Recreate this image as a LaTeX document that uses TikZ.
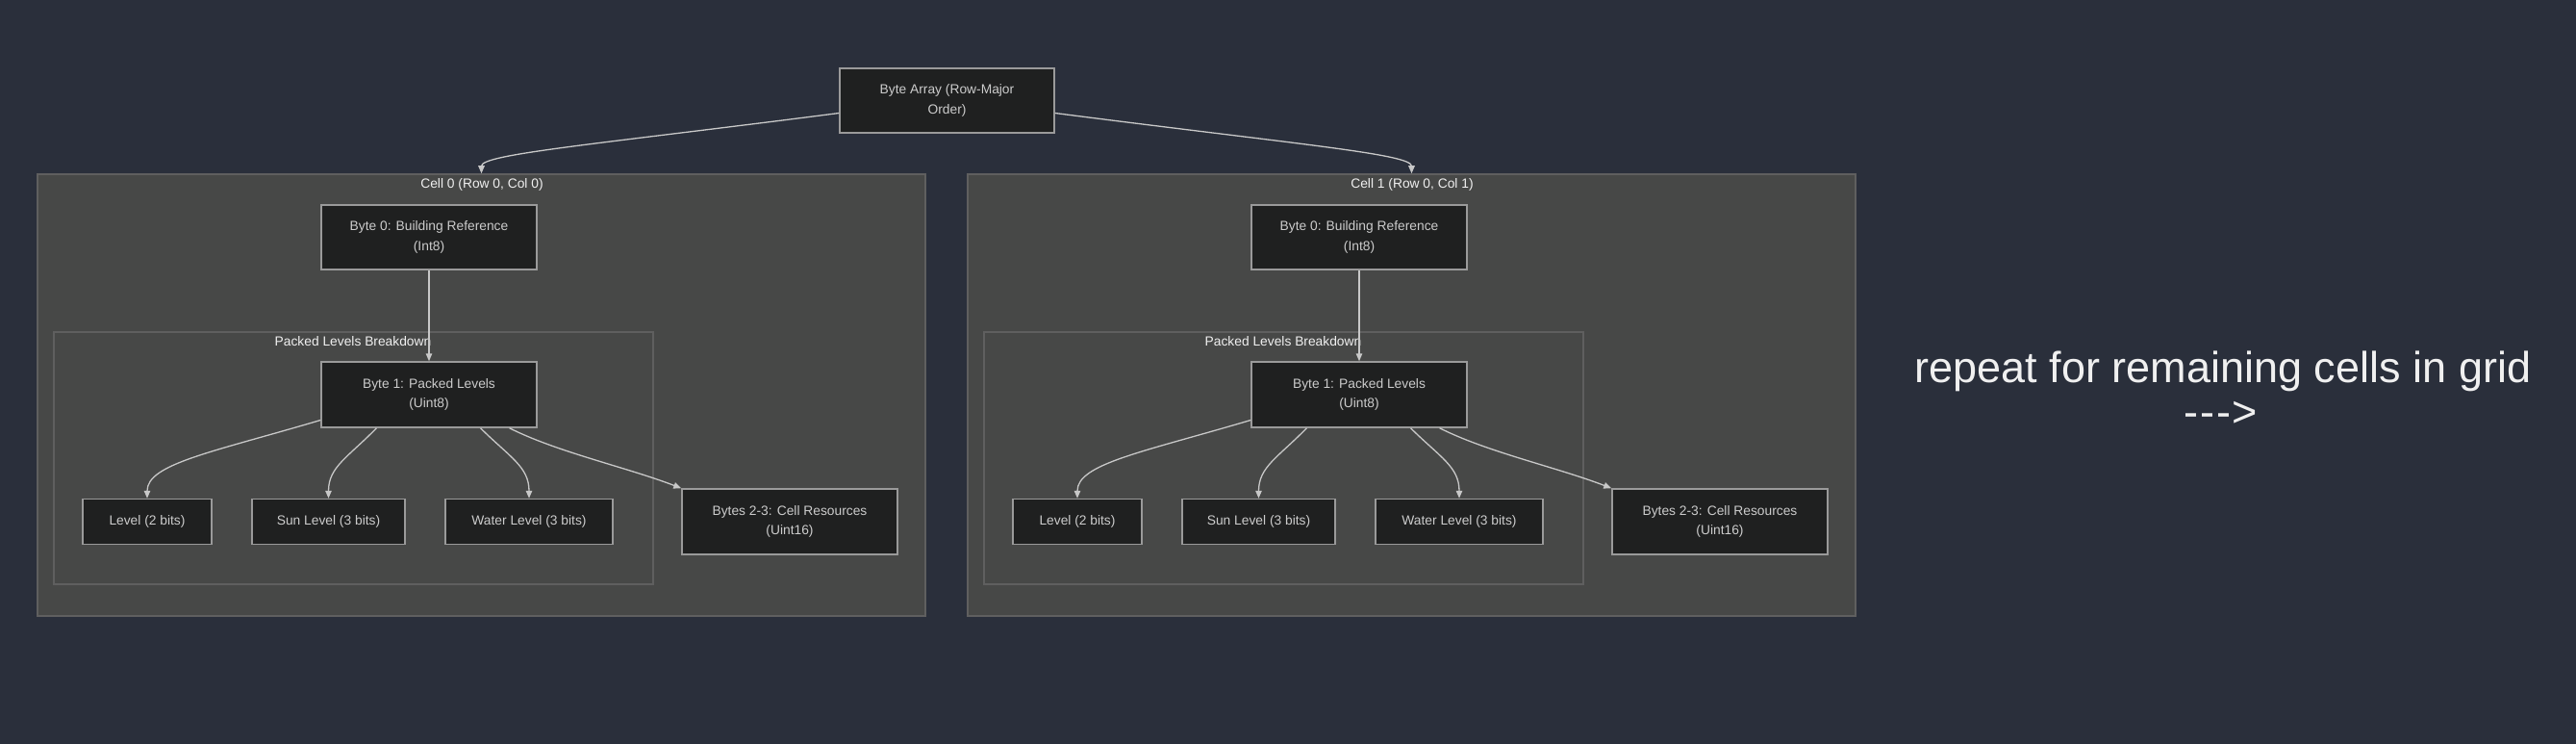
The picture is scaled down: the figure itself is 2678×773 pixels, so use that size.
\documentclass[tikz,border=0pt]{standalone}
\usepackage{fontspec}
\setmainfont{Liberation Sans}
\usetikzlibrary{arrows.meta}
\definecolor{bg}{HTML}{2A2F3B}
\definecolor{clfill}{HTML}{474847}
\definecolor{cldraw}{HTML}{5F5F5F}
\definecolor{ndfill}{HTML}{1F2020}
\definecolor{nddraw}{HTML}{9A9A9A}
\definecolor{ndtext}{HTML}{CCCCCC}
\definecolor{edgecol}{HTML}{C8C8C8}
\definecolor{titlecol}{HTML}{F0F0F0}
\tikzset{
  box/.style={draw=nddraw, fill=ndfill, line width=1.5pt, text=ndtext,
    font=\fontsize{13.8}{20.7}\selectfont, align=center, inner sep=0pt},
  cluster/.style={draw=cldraw, fill=clfill, line width=1.5pt, inner sep=0pt},
  ctitle/.style={text=titlecol, font=\fontsize{13.8}{16}\selectfont, inner sep=0pt},
  link/.style={draw=edgecol, line width=1.3pt, -{Triangle[length=8pt,width=6.5pt]}},
  bigtext/.style={text=titlecol, font=\fontsize{45}{54}\selectfont, inner sep=0pt, anchor=base},
}
\begin{document}
\begin{tikzpicture}[x=1pt,y=-1pt]
\fill[bg] (0,0) rectangle (2678,773);
\useasboundingbox (0,0) rectangle (2678,773);

\node[box, minimum width=223pt, minimum height=67pt] (ba) at (984.5,104.5) {Byte Array (Row-Major\\Order)};

\foreach \i/\dx in {0/0,1/967} {
  \begin{scope}[xshift=\dx pt]
    \node[cluster, minimum width=923pt, minimum height=459pt] (cell\i) at (500.5,410.5) {};
    \node[ctitle] (cellt\i) at (501,191.6) {Cell \i\ (Row 0, Col \i)};
    \node[cluster, minimum width=623pt, minimum height=262pt] (pk\i) at (367.5,476) {};
    \node[ctitle] (pkt\i) at (367,354.6) {Packed Levels Breakdown};
    \node[box, minimum width=224pt, minimum height=67pt] (b0\i) at (446,246.7) {Byte 0: Building Reference\\(Int8)};
    \node[box, minimum width=224pt, minimum height=68pt] (b1\i) at (446,410) {Byte 1: Packed Levels\\(Uint8)};
    \node[box, minimum width=134pt, minimum height=47pt] (lv\i) at (153,542) {Level (2 bits)};
    \node[box, minimum width=159pt, minimum height=47pt] (sun\i) at (341.5,542) {Sun Level (3 bits)};
    \node[box, minimum width=174pt, minimum height=47pt] (wat\i) at (550,542) {Water Level (3 bits)};
    \node[box, minimum width=224pt, minimum height=68pt] (res\i) at (821,542) {Bytes 2-3: Cell Resources\\(Uint16)};
    \draw[link] (b0\i) -- (b1\i);
    \draw[link] ([yshift=-26.5pt]b1\i.west) .. controls (220,470) and (153,482) .. (lv\i.north);
    \draw[link] ([xshift=-54.6pt]b1\i.south) .. controls (362,475) and (341.5,485) .. (sun\i.north);
    \draw[link] ([xshift=53.5pt]b1\i.south) .. controls (530,475) and (550,485) .. (wat\i.north);
    \draw[link] ([xshift=83.6pt]b1\i.south) .. controls (580,470) and (650,485) .. (res\i.north west);
  \end{scope}
}

\draw[link] ([yshift=-13pt]ba.west) .. controls (620,150) and (500.5,160) .. (cell0.north);
\draw[link] ([yshift=-13pt]ba.east) .. controls (1349,150) and (1467.5,160) .. (cell1.north);

\node[bigtext] (rep) at (2311,397) {repeat for remaining cells in grid};
\node[bigtext] (arr) at (2309,443) {-\kern2pt-\kern2pt-\kern1pt>};
\end{tikzpicture}
\end{document}
